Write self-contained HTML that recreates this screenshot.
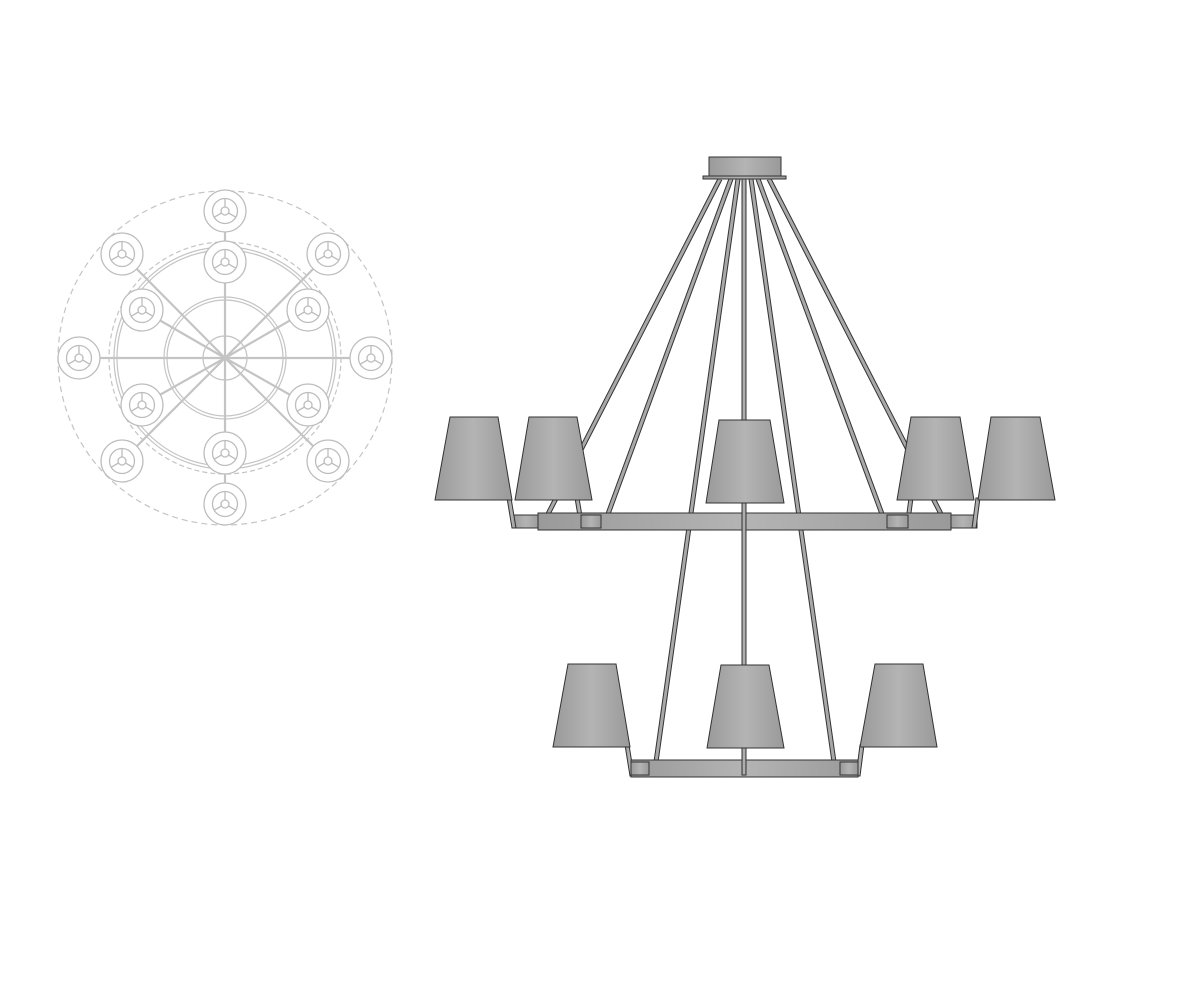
<!DOCTYPE html>
<html><head><meta charset="utf-8"><style>html,body{margin:0;padding:0;background:#fff}svg{display:block}</style></head>
<body>
<svg width="1200" height="1000" viewBox="0 0 1200 1000" xmlns="http://www.w3.org/2000/svg">
<defs>
<linearGradient id="g" x1="0" x2="1" y1="0" y2="0">
<stop offset="0" stop-color="#9a9a9a"/><stop offset="0.5" stop-color="#b4b4b4"/><stop offset="1" stop-color="#9a9a9a"/>
</linearGradient>
<g id="lamp" fill="none" stroke="#bdbdbd" stroke-width="1.3">
<circle r="21"/><circle r="12.5"/><circle r="4"/>
<line x1="0" y1="-4" x2="0" y2="-12.5"/><line x1="3.5" y1="2" x2="10.8" y2="6.2"/><line x1="-3.5" y1="2" x2="-10.8" y2="6.2"/>
</g>
</defs>
<!-- top view -->
<g fill="none" stroke="#c4c4c4" stroke-width="1.2">
<circle cx="225" cy="358" r="167" stroke-dasharray="6 4"/>
<circle cx="225" cy="358" r="116" stroke-dasharray="5 3"/>
<circle cx="225" cy="358" r="111"/><circle cx="225" cy="358" r="108"/>
<circle cx="225" cy="358" r="61"/><circle cx="225" cy="358" r="58"/>
<circle cx="225" cy="358" r="22"/>
<g stroke-width="2.2">
<line x1="225" y1="358" x2="225" y2="211"/><line x1="225" y1="358" x2="225" y2="504"/>
<line x1="225" y1="358" x2="79" y2="358"/><line x1="225" y1="358" x2="371" y2="358"/>
<line x1="225" y1="358" x2="122" y2="254"/><line x1="225" y1="358" x2="328" y2="254"/>
<line x1="225" y1="358" x2="122" y2="461"/><line x1="225" y1="358" x2="328" y2="461"/>
<line x1="225" y1="358" x2="142" y2="310"/><line x1="225" y1="358" x2="308" y2="310"/>
<line x1="225" y1="358" x2="142" y2="405"/><line x1="225" y1="358" x2="308" y2="405"/>
</g>
</g>
<g fill="#fff">
<g transform="translate(225,211)"><circle r="21" stroke="none"/><use href="#lamp"/></g>
<g transform="translate(225,262)"><circle r="21" stroke="none"/><use href="#lamp"/></g>
<g transform="translate(122,254)"><circle r="21" stroke="none"/><use href="#lamp"/></g>
<g transform="translate(328,254)"><circle r="21" stroke="none"/><use href="#lamp"/></g>
<g transform="translate(142,310)"><circle r="21" stroke="none"/><use href="#lamp"/></g>
<g transform="translate(308,310)"><circle r="21" stroke="none"/><use href="#lamp"/></g>
<g transform="translate(79,358)"><circle r="21" stroke="none"/><use href="#lamp"/></g>
<g transform="translate(371,358)"><circle r="21" stroke="none"/><use href="#lamp"/></g>
<g transform="translate(142,405)"><circle r="21" stroke="none"/><use href="#lamp"/></g>
<g transform="translate(308,405)"><circle r="21" stroke="none"/><use href="#lamp"/></g>
<g transform="translate(122,461)"><circle r="21" stroke="none"/><use href="#lamp"/></g>
<g transform="translate(328,461)"><circle r="21" stroke="none"/><use href="#lamp"/></g>
<g transform="translate(225,453)"><circle r="21" stroke="none"/><use href="#lamp"/></g>
<g transform="translate(225,504)"><circle r="21" stroke="none"/><use href="#lamp"/></g>
</g>

<!-- elevation -->
<g stroke-linecap="butt">
<!-- rods: dark outline then grey core -->
<g stroke="#333" stroke-width="5">
<line x1="720" y1="179" x2="548" y2="514"/>
<line x1="731" y1="179" x2="608" y2="514"/>
<line x1="738" y1="179" x2="656" y2="762"/>
<line x1="751" y1="179" x2="834" y2="762"/>
<line x1="758" y1="179" x2="882" y2="514"/>
<line x1="769" y1="179" x2="941" y2="514"/>
</g>
<g stroke="#a8a8a8" stroke-width="3">
<line x1="720" y1="179" x2="548" y2="514"/>
<line x1="731" y1="179" x2="608" y2="514"/>
<line x1="738" y1="179" x2="656" y2="762"/>
<line x1="751" y1="179" x2="834" y2="762"/>
<line x1="758" y1="179" x2="882" y2="514"/>
<line x1="769" y1="179" x2="941" y2="514"/>
</g>
</g>
<g stroke="#333" stroke-width="1" fill="url(#g)">
<!-- canopy -->
<rect x="709" y="157" width="72" height="19"/>
<rect x="703" y="176" width="83" height="3"/>
<!-- upper side arms & stems -->
<rect x="512" y="515" width="28" height="13"/>
<rect x="949" y="515" width="28" height="13"/>
<polygon points="507,498 511,498 516,528 512,528"/>
<polygon points="575,498 579,498 584,528 580,528"/>
<polygon points="909,498 913,498 909,528 905,528"/>
<polygon points="976,498 980,498 976,528 972,528"/>
<!-- upper ring -->
<rect x="538" y="513" width="413" height="17"/>
<rect x="581" y="515" width="20" height="13"/>
<rect x="887" y="515" width="21" height="13"/>
<!-- lower stems -->
<polygon points="625,745 629,745 634,776 630,776"/>
<polygon points="860,745 864,745 860,776 856,776"/>
<!-- lower ring -->
<rect x="631" y="760" width="227" height="17"/>
<rect x="631" y="762" width="18" height="13"/>
<rect x="840" y="762" width="18" height="13"/>
<!-- center rod -->
<rect x="742" y="179" width="4" height="596"/>
<!-- shades -->
<polygon points="450,417 498,417 512,500 435,500"/>
<polygon points="529,417 577,417 592,500 515,500"/>
<polygon points="719,420 770,420 784,503 706,503"/>
<polygon points="911,417 960,417 974,500 897,500"/>
<polygon points="991,417 1040,417 1055,500 978,500"/>
<polygon points="568,664 616,664 630,747 553,747"/>
<polygon points="721,665 769,665 784,748 707,748"/>
<polygon points="875,664 923,664 937,747 860,747"/>
</g>
</svg>
</body></html>
